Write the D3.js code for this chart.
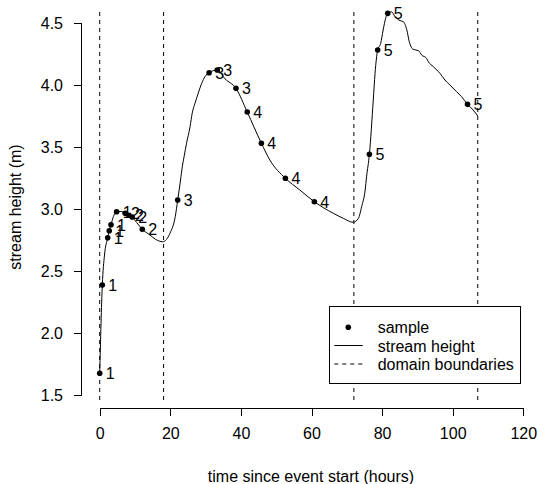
<!DOCTYPE html>
<html><head><meta charset="utf-8">
<script src="https://cdn.jsdelivr.net/npm/d3@7"></script>
<style>body{margin:0;background:#fff}svg{display:block}text{font-family:"Liberation Sans",Arial,Helvetica,sans-serif;fill:#000}</style>
</head><body><svg id="c" width="538" height="484"></svg>
<script>
// stream height trace
const lineT = [0,0.74,1.36,2.27,2.7,3.2,3.9,4.8,6.0,7.2,8.3,9.2,10.5,12.07,14.25,15.9,17.85,19.9,21.4,22.1,22.9,23.4,23.9,24.6,25.6,26.2,27.0,27.9,28.9,29.8,31.0,33.3,35.5,38.6,41.8,45.8,48.2,52.6,56.7,60.8,66.2,69.0,71.8,73.3,74.2,75.2,75.6,76.4,77.5,78.0,78.75,79.6,80.3,81.0,81.6,82.7,83.7,85.1,86.0,87.0,87.7,88.8,90.3,91.2,92.6,93.1,94.5,95.5,96.4,97.8,99.2,101.1,102.5,104.2,105.8,107.1];
const lineH = [1.675,2.387,2.629,2.768,2.825,2.873,2.94,2.978,2.98,2.965,2.95,2.935,2.89,2.836,2.79,2.754,2.736,2.804,2.938,3.073,3.234,3.341,3.422,3.53,3.664,3.772,3.852,3.933,4.014,4.067,4.099,4.121,4.05,3.973,3.782,3.53,3.395,3.248,3.153,3.059,2.965,2.925,2.893,2.925,3.018,3.153,3.26,3.441,3.879,4.094,4.282,4.336,4.444,4.538,4.578,4.59,4.55,4.519,4.511,4.444,4.349,4.288,4.277,4.242,4.215,4.188,4.148,4.121,4.094,4.04,4.0,3.946,3.906,3.844,3.798,3.75];
// samples
const sampleT = [0,0.74,2.27,2.7,3.2,4.8,7.2,8.3,9.2,12.07,22.1,31.0,33.3,38.6,41.8,45.8,52.6,60.8,76.4,78.75,81.6,104.2];
const sampleH = [1.675,2.387,2.768,2.825,2.873,2.978,2.965,2.95,2.935,2.836,3.073,4.099,4.121,3.973,3.782,3.53,3.248,3.059,3.441,4.282,4.578,3.844];
const sampleLabel = ["1","1","1","1","1","1","2","2","2","2","3","3","3","3","4","4","4","4","5","5","5","5"];
// domain boundaries
const boundaries = [0,18.1,72,107.1];
const xTicks = [0,20,40,60,80,100,120];
const yTicks = [1.5,2.0,2.5,3.0,3.5,4.0,4.5];
const legendLabels = ["sample","stream height","domain boundaries"];

const svg = d3.select("#c");
const x = d3.scaleLinear().domain([0,120]).range([99.7,523.3]);
const y = d3.scaleLinear().domain([1.5,4.5]).range([395,23]);
const fs = "16px";

// boundaries
svg.append("g").selectAll("line").data(boundaries).join("line")
  .attr("x1",d=>x(d)).attr("x2",d=>x(d)).attr("y1",12).attr("y2",401)
  .attr("stroke","#000").attr("stroke-width",1).attr("stroke-dasharray","4,4");

// axes
const xa = svg.append("g").attr("transform","translate(0,408)")
  .call(d3.axisBottom(x).tickValues(xTicks).tickFormat(d3.format("d")).tickSizeOuter(0).tickSize(8).tickPadding(12));
const ya = svg.append("g").attr("transform","translate(82,0)")
  .call(d3.axisLeft(y).tickValues(yTicks).tickFormat(d3.format(".1f")).tickSizeOuter(0).tickSize(8).tickPadding(11));
[xa,ya].forEach(a=>{
  a.selectAll("text").style("font-size",fs).attr("fill","#000");
  a.selectAll("path,line").attr("stroke","#000").attr("shape-rendering","crispEdges");
});
xa.select(".domain").attr("d",`M${x(0)},0.5H${x(120)}`);
ya.select(".domain").attr("d",`M-0.5,${y(1.5)}V${y(4.5)}`);

// line
const line = d3.line().x((d,i)=>x(lineT[i])).y((d,i)=>y(lineH[i])).curve(d3.curveMonotoneX);
svg.append("path").attr("d",line(lineT)).attr("fill","none").attr("stroke","#000").attr("stroke-width",1);

// samples
svg.append("g").selectAll("circle").data(sampleT).join("circle")
  .attr("cx",(d)=>x(d)).attr("cy",(d,i)=>y(sampleH[i])).attr("r",2.8).attr("fill","#000");
svg.append("g").selectAll("text").data(sampleT).join("text")
  .attr("x",d=>x(d)+6).attr("y",(d,i)=>y(sampleH[i])+6)
  .style("font-size",fs).text((d,i)=>sampleLabel[i]);

// axis titles
svg.append("text").attr("x",311).attr("y",482).attr("text-anchor","middle").style("font-size",fs)
  .text("time since event start (hours)");
svg.append("text").attr("transform","translate(21,207) rotate(-90)").attr("text-anchor","middle").style("font-size",fs)
  .text("stream height (m)");

// legend
const lg = svg.append("g");
lg.append("rect").attr("x",329.5).attr("y",306.5).attr("width",191).attr("height",77)
  .attr("fill","#fff").attr("stroke","#000");
const rowsY = [327.3,345.5,364];
lg.append("circle").attr("cx",348.3).attr("cy",rowsY[0]).attr("r",2.8).attr("fill","#000");
lg.append("line").attr("x1",334.3).attr("x2",362.7).attr("y1",rowsY[1]).attr("y2",rowsY[1]).attr("stroke","#000");
lg.append("line").attr("x1",334.3).attr("x2",362.7).attr("y1",rowsY[2]).attr("y2",rowsY[2]).attr("stroke","#000").attr("stroke-dasharray","4,4");
lg.selectAll("text").data(legendLabels).join("text").attr("x",377.7).attr("y",(d,i)=>rowsY[i]+6)
  .style("font-size",fs).text(d=>d);
</script></body></html>
